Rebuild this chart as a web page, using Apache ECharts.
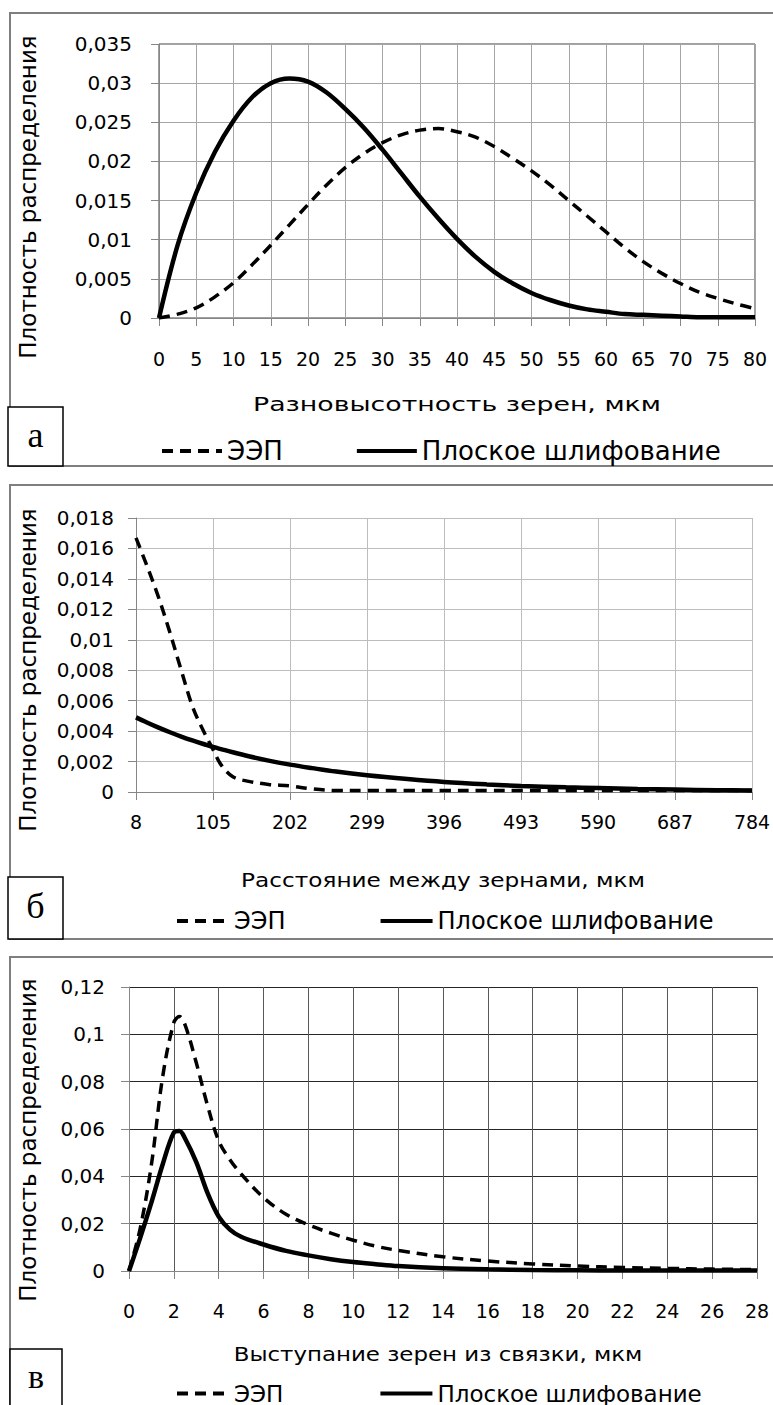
<!DOCTYPE html>
<html>
<head>
<meta charset="utf-8">
<script src="https://cdn.jsdelivr.net/npm/echarts@6/dist/echarts.min.js"></script>
<style>
  html, body { margin: 0; padding: 0; background: #fff; }
  #chart { width: 773px; height: 1405px; }
</style>
</head>
<body>
<div id="chart"></div>
<script>
const SERIES_NAMES = ["ЭЭП", "Плоское шлифование"];

// а) Разновысотность зерен
const A_X = [0, 2.5, 5, 7.5, 10, 12.5, 15, 17.5, 20, 22.5, 25, 27.5, 30, 32.5, 35, 37.5, 40,
  42.5, 45, 47.5, 50, 52.5, 55, 57.5, 60, 62.5, 65, 67.5, 70, 72.5, 75, 77.5, 80];
const A_EEP = [0, 0.0005, 0.0013, 0.0027, 0.0045, 0.0068, 0.0093, 0.0119, 0.0145, 0.0170, 0.0192,
  0.0210, 0.0224, 0.0234, 0.0240, 0.0242, 0.0238, 0.0231, 0.0219, 0.0204, 0.0188, 0.0170, 0.0150,
  0.0130, 0.0110, 0.0090, 0.0072, 0.0057, 0.0044, 0.0033, 0.0025, 0.0018, 0.0012];
const A_FLAT = [0, 0.0093, 0.0160, 0.0212, 0.0252, 0.0282, 0.0300, 0.0306, 0.0302, 0.0288, 0.0267,
  0.0243, 0.0215, 0.0185, 0.0155, 0.0127, 0.0101, 0.0078, 0.0059, 0.0044, 0.0032, 0.0023, 0.0016,
  0.0011, 0.0008, 0.0005, 0.0004, 0.0003, 0.0002, 0.0001, 0.0001, 0.0001, 0.0001];

// б) Расстояние между зернами
const B_X = [8, 20, 35, 50, 65, 80, 95, 105, 115, 130, 150, 175, 202, 230, 260, 299, 350, 396,
  450, 493, 550, 590, 640, 687, 740, 784];
const B_EEP = [0.0167, 0.0151, 0.0130, 0.0106, 0.0080, 0.0055, 0.0038, 0.0028, 0.0018, 0.0010,
  0.0007, 0.0005, 0.0004, 0.0002, 0.0001, 0.0001, 0.0001, 0.0001, 0.0001, 0.0001, 0.0001, 0.0001,
  0.0001, 0.0001, 0.0001, 0.0001];
const B_FLAT = [0.0049, 0.00461, 0.00426, 0.00394, 0.00364, 0.00337, 0.00312, 0.00296, 0.00282,
  0.00261, 0.00235, 0.00206, 0.0018, 0.00157, 0.00134, 0.0011, 0.00085, 0.00066, 0.0005, 0.0004,
  0.00031, 0.00026, 0.0002, 0.00016, 0.00012, 0.0001];
const B_X_START = 8;
const B_X_END = 784;
const B_X_STEP = 97;

// в) Выступание зерен из связки
const C_X = [0, 0.5, 1, 1.5, 2, 2.25, 2.5, 3, 3.5, 4, 4.5, 5, 6, 7, 8, 9, 10, 11, 12, 14, 16, 18,
  20, 22, 24, 26, 28];
const C_EEP = [0, 0.018, 0.045, 0.082, 0.105, 0.1075, 0.104, 0.088, 0.070, 0.055, 0.047, 0.041,
  0.031, 0.024, 0.0195, 0.016, 0.013, 0.0105, 0.0087, 0.006, 0.0042, 0.003, 0.0021, 0.0015,
  0.0011, 0.0008, 0.0006];
const C_FLAT = [0, 0.014, 0.029, 0.045, 0.0585, 0.0592, 0.056, 0.046, 0.033, 0.023, 0.0175,
  0.0145, 0.0112, 0.0085, 0.0066, 0.005, 0.0038, 0.0029, 0.0021, 0.0012, 0.0007, 0.0004, 0.0003,
  0.0002, 0.0002, 0.0002, 0.0002];

const X_TITLES = ["Разновысотность зерен, мкм", "Расстояние между зернами, мкм",
  "Выступание зерен из связки, мкм"];
const Y_TITLE = "Плотность распределения";
const PANEL_LETTERS = ["а", "б", "в"];

const FONT = "DejaVu Sans";
const AXIS_GRAY = "#868686";

const measureCtx = document.createElement("canvas").getContext("2d");
function textWidth(text, size) {
  measureCtx.font = `${size}px "${FONT}"`;
  return measureCtx.measureText(text).width;
}

const fmtY = (v) => (v === 0 ? "0" : String(+v.toFixed(4)).replace(".", ","));

function xAxisFor(gridIndex, min, max, interval, margin, gridColor, formatter) {
  return {
    type: "value", gridIndex, min, max, interval,
    axisLine: { show: true, lineStyle: { color: AXIS_GRAY, width: 1 } },
    axisTick: { show: true, length: 8, lineStyle: { color: AXIS_GRAY } },
    axisLabel: { color: "#000", fontFamily: FONT, fontSize: 19, margin, formatter },
    splitLine: { show: true, lineStyle: { color: gridColor, width: 1 } },
  };
}

function yAxisFor(gridIndex, max, interval, margin, gridColor) {
  return {
    type: "value", gridIndex, min: 0, max, interval,
    axisLine: { show: true, lineStyle: { color: AXIS_GRAY, width: 1 } },
    axisTick: { show: true, length: 8, lineStyle: { color: AXIS_GRAY } },
    axisLabel: { color: "#000", fontFamily: FONT, fontSize: 20, margin, formatter: fmtY },
    splitLine: { show: true, lineStyle: { color: gridColor, width: 1 } },
  };
}

function lineSeries(name, idx, xs, ys, dashed, xShift) {
  return {
    name, type: "line", xAxisIndex: idx, yAxisIndex: idx,
    data: xs.map((x, i) => [x - (xShift || 0), ys[i]]),
    smooth: 0.35, symbol: "none", showSymbol: false,
    lineStyle: { color: "#000", width: dashed ? 3.5 : 4.5, type: dashed ? [11, 7] : "solid" },
    itemStyle: { color: "#000" },
    z: dashed ? 2 : 3,
  };
}

// Легенда: только линия, без маркера
function legendFor(left, top, fontSize, itemWidth, itemGap) {
  return {
    data: SERIES_NAMES, left, top, itemWidth, itemHeight: 14, itemGap,
    selectedMode: false, orient: "horizontal",
    itemStyle: { opacity: 0 },
    lineStyle: { width: 4 },
    textStyle: { color: "#000", fontFamily: FONT, fontSize },
  };
}

function xTitle(text, cx, cy, width) {
  const size = 19;
  return {
    type: "text", x: cx, y: cy, scaleX: width / textWidth(text, size),
    style: { text, fill: "#000", font: `${size}px "${FONT}"`, align: "center", verticalAlign: "middle" },
  };
}

function yTitle(cx, cy) {
  return {
    type: "text", x: cx, y: cy, rotation: Math.PI / 2,
    style: { text: Y_TITLE, fill: "#000", font: `23px "${FONT}"`, align: "center", verticalAlign: "middle" },
  };
}

function panelFrame(top, height) {
  return {
    type: "rect", shape: { x: 10, y: top, width: 800, height },
    style: { fill: "none", stroke: "#7f7f7f", lineWidth: 2 }, z: 0,
  };
}

function letterBox(x, y, w, h, letter, size, textY) {
  return {
    type: "group", z: 10,
    children: [
      { type: "rect", shape: { x, y, width: w, height: h }, style: { fill: "#fff", stroke: "#000", lineWidth: 1.5 } },
      { type: "text", x: x + w / 2, y: textY,
        style: { text: letter, fill: "#000", font: `${size}px "Liberation Serif"`, align: "center", verticalAlign: "middle" } },
    ],
  };
}

const chart = echarts.init(document.getElementById("chart"), null, { renderer: "svg" });
chart.setOption({
  animation: false,
  backgroundColor: "#fff",
  grid: [
    { left: 159, top: 44, width: 596, height: 274, show: true, borderColor: "#404040", borderWidth: 1, outerBoundsMode: "none" },
    { left: 136, top: 518, width: 616, height: 274, outerBoundsMode: "none" },
    { left: 129, top: 987, width: 628, height: 284, outerBoundsMode: "none" },
  ],
  xAxis: [
    xAxisFor(0, 0, 80, 5, 31, "#a5a5a5"),
    xAxisFor(1, 0, B_X_END - B_X_START, B_X_STEP, 20, "#bdbdbd", (v) => String(v + B_X_START)),
    xAxisFor(2, 0, 28, 2, 30, "#595959"),
  ],
  yAxis: [
    yAxisFor(0, 0.035, 0.005, 27, "#a5a5a5"),
    yAxisFor(1, 0.018, 0.002, 22, "#bdbdbd"),
    yAxisFor(2, 0.12, 0.02, 24, "#262626"),
  ],
  legend: [
    legendFor(155, 433, 26, 60, 72),
    legendFor(170, 904, 24, 52, 93),
    legendFor(170, 1377, 23, 52, 95),
  ],
  series: [
    lineSeries(SERIES_NAMES[0], 0, A_X, A_EEP, true),
    lineSeries(SERIES_NAMES[1], 0, A_X, A_FLAT, false),
    lineSeries(SERIES_NAMES[0], 1, B_X, B_EEP, true, B_X_START),
    lineSeries(SERIES_NAMES[1], 1, B_X, B_FLAT, false, B_X_START),
    lineSeries(SERIES_NAMES[0], 2, C_X, C_EEP, true),
    lineSeries(SERIES_NAMES[1], 2, C_X, C_FLAT, false),
  ],
  graphic: [
    panelFrame(13, 453),
    panelFrame(485, 454),
    panelFrame(957, 500),
    yTitle(28, 197),
    yTitle(28, 670),
    yTitle(28, 1140),
    xTitle(X_TITLES[0], 457, 404, 408),
    xTitle(X_TITLES[1], 443, 880, 404),
    xTitle(X_TITLES[2], 438, 1354, 409),
    letterBox(8, 407, 55, 59, PANEL_LETTERS[0], 36, 435),
    letterBox(8, 877, 55, 62, PANEL_LETTERS[1], 36, 906),
    letterBox(10, 1349, 52, 70, PANEL_LETTERS[2], 34, 1376),
  ],
});
</script>
</body>
</html>
